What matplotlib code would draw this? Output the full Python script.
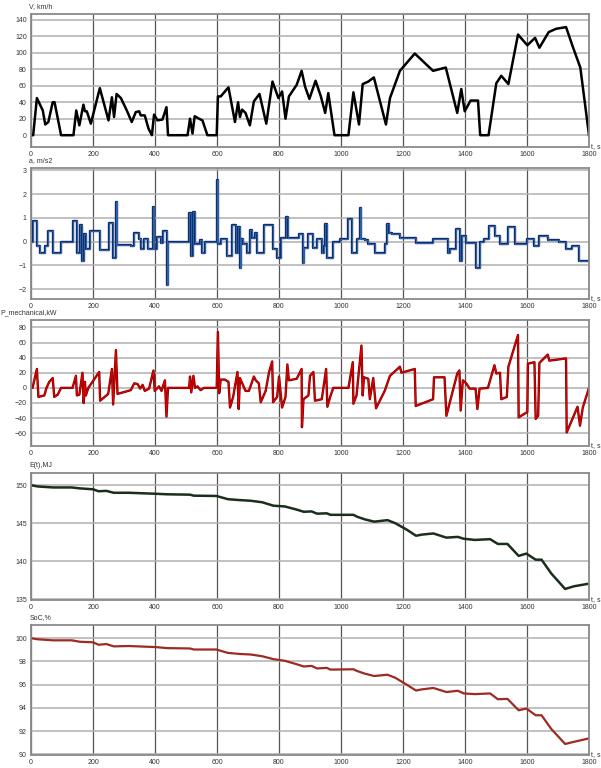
import matplotlib
matplotlib.use('Agg')
import matplotlib.pyplot as plt

plt.rcParams['font.family'] = ['Liberation Sans', 'DejaVu Sans']

#speed V, km/h
v_t = [0, 7, 19, 38, 46, 56, 70, 76, 97, 137, 146, 156, 169, 174, 180, 193, 222, 250, 261, 268,
       276, 290, 309, 325, 338, 349, 354, 367, 379, 390, 397, 408, 424, 437, 442, 505, 513, 521,
       528, 542, 553, 569, 599, 603, 612, 637, 658, 668, 674, 681, 692, 706, 719, 737, 759, 779,
       798, 810, 821, 832, 857, 873, 884, 898, 918, 935, 949, 959, 979, 1024, 1040, 1058, 1070,
       1088, 1106, 1145, 1158, 1190, 1238, 1297, 1338, 1375, 1388, 1399, 1418, 1442, 1449, 1476,
       1501, 1517, 1540, 1571, 1601, 1626, 1640, 1670, 1694, 1726, 1747, 1772, 1800]
v_val = [0, 0, 45, 30, 13, 16, 40, 40, 0, 0, 30, 12, 37, 29, 29, 14, 57, 18, 46, 22,
         50, 45, 30, 16, 28, 29, 24, 24, 8, 0, 25, 18, 19, 34, 0, 0, 20, 2,
         23, 20, 18, 0, 0, 47, 47, 58, 16, 40, 22, 31, 27, 12, 41, 50, 14, 65,
         45, 53, 20, 47, 61, 78, 59, 44, 66, 47, 27, 51, 0, 0, 52, 13, 62,
         65, 70, 13, 45, 78, 99, 78, 82, 27, 56, 29, 42, 42, 0, 0,
         63, 72, 62, 122, 109, 118, 106, 125, 129, 131, 108, 82, 0]

#acceleration a, m/s2 (step values, each holds until next time)
a_t = [0, 5, 19, 30, 46, 54, 70, 97, 134, 148, 158, 166, 172, 177, 191, 222, 252, 263, 274, 279,
       322, 333, 349, 354, 365, 376, 392, 397, 408, 419, 427, 438, 442, 510, 515, 521, 528, 544,
       551, 560, 599, 604, 612, 633, 649, 660, 668, 674, 677, 685, 696, 706, 714, 721, 730, 751,
       781, 794, 808, 822, 829, 866, 876, 881, 895, 911, 922, 938, 944, 949, 956, 975, 997, 1024,
       1034, 1050, 1061, 1066, 1077, 1088, 1109, 1142, 1149, 1155, 1163, 1190, 1243, 1297, 1345,
       1351, 1372, 1383, 1391, 1404, 1436, 1447, 1460, 1477, 1498, 1514, 1538, 1560, 1599, 1624,
       1638, 1667, 1702, 1726, 1745, 1767, 1800]
a_val = [0, 0.85, -0.2, -0.5, -0.2, 0.45, -0.5, 0, 0.85, -0.5, 0.7, -0.8, 0.3, -0.3, 0.45, -0.35,
         0.8, -0.7, 1.65, -0.15, -0.2, 0.35, 0.1, -0.3, 0.1, -0.3, 1.45, -0.3, 0.2, -0.05, 0.45,
         -1.85, 0, 1.2, -0.6, 1.25, -0.1, 0.05, -0.5, 0, 2.6, -0.1, 0.1, -0.6, 0.7, -0.5, 0.6, -1.1,
         0.1, -0.1, -0.5, 0.5, 0.15, 0.35, -0.5, 0.7, -0.3, -0.7, 0.15, 1.05, 0.15, 0.3, -0.9,
         -0.25, 0.3, -0.25, 0.1, -0.5, -0.2, 0.75, -0.7, 0.0, 0.1, 0.95, -0.5, 0.1, 1.4, 0.1, 0.05,
         -0.1, -0.5, -0.1, 0.75, 0.35, 0.3, 0.15, -0.05, 0.1, -0.5, -0.3, 0.55, -0.8, 0.25, -0.05,
         -1.1, 0.0, 0.1, 0.65, 0.25, -0.1, 0.6, -0.1, 0.1, -0.2, 0.25, 0.05, 0.0, -0.3, -0.2, -0.8,
         -0.8]

#mechanical power, kW
p_t = [0, 5, 19, 24, 43, 50, 59, 70, 75, 86, 97, 134, 145, 148, 156, 166, 170, 174, 177, 185,
       220, 223, 249, 261, 265, 274, 279, 322, 333, 344, 352, 360, 367, 381, 395, 399, 413, 421,
       432, 437, 442, 510, 513, 517, 524, 529, 537, 547, 558, 599, 603, 607, 612, 625, 637, 642,
       652, 666, 670, 674, 692, 703, 719, 725, 735, 741, 757, 768, 778, 781, 794, 800, 810, 821,
       827, 832, 857, 873, 874, 879, 895, 900, 911, 916, 938, 952, 956, 965, 975, 1024, 1038,
       1040, 1050, 1066, 1070, 1074, 1088, 1093, 1104, 1113, 1141, 1158, 1177, 1190, 1195, 1238,
       1241, 1297, 1300, 1334, 1340, 1375, 1382, 1386, 1393, 1404, 1415, 1434, 1440, 1447, 1474,
       1495, 1501, 1513, 1517, 1535, 1540, 1571, 1573, 1601, 1603, 1624, 1628, 1636, 1640, 1667,
       1672, 1726, 1728, 1763, 1771, 1780, 1800]
p_val = [0, 0, 25, -12, -10, 0, 8, 13, -12, -9, 0, 0, 16, -10, -9, 20, -20, 8, -10, 0,
         21, -17, -8, 25, -22, 50, -8, -3, 6, 5, -1, 4, -4, -1, 23, -4, 2, -4,
         10, -38, 0, 0, 15, -6, 16, 0, 2, -3, 0, 0, 74, -7, 11, 11, 8, -26,
         -12, 21, -28, 13, -4, -4, 15, 10, 6, -19, -4, 21, 35, -19, -12, 15, -26, -12,
         31, 10, 12, 25, -52, -15, -10, 16, 21, -17, -15, 25, -25, -12, 0, 0, 34,
         -21, -10, 56, -10, 14, 12, -15, 13, -27, -4, 16, 23, 28, 20, 25,
         -24, -15, 14, 14, -37, 19, 23, -30, 10, 6, -1, -1, -28, -1, 0,
         30, 19, 20, -15, -12, 28, 70, -39, -32, 32, 34, -41, -37, 33, 44,
         36, 39, -59, -25, -50, -26, 0]

#battery energy E(t), MJ
e_t = [0, 22, 71, 132, 157, 200, 218, 243, 267, 316, 402, 439, 513, 525, 598, 635, 672, 709, 746,
       782, 819, 856, 880, 905, 923, 954, 966, 1040, 1052, 1077, 1107, 1150, 1175, 1212, 1242,
       1261, 1298, 1340, 1377, 1396, 1432, 1481, 1506, 1537, 1573, 1598, 1628, 1647, 1678, 1723,
       1751, 1800]
e_val = [150, 149.83, 149.7, 149.7, 149.58, 149.46, 149.2, 149.25, 149.0, 149.0, 148.87, 148.8,
         148.75, 148.62, 148.58, 148.16, 148.04, 147.95, 147.75, 147.3, 147.2, 146.8, 146.5,
         146.55, 146.25, 146.3, 146.1, 146.1, 145.85, 145.5, 145.2, 145.4, 145.0, 144.15, 143.35,
         143.5, 143.65, 143.1, 143.2, 142.95, 142.8, 142.9, 142.27, 142.27, 140.7, 141.0, 140.2,
         140.2, 138.4, 136.35, 136.7, 137.05]

#state of charge, %
soc_t = e_t
soc_val = [100, 99.91, 99.82, 99.82, 99.7, 99.65, 99.44, 99.5, 99.3, 99.33, 99.24, 99.15, 99.12,
           99.03, 99.03, 98.74, 98.65, 98.6, 98.45, 98.2, 98.06, 97.77, 97.57, 97.62, 97.4, 97.45,
           97.3, 97.33, 97.18, 96.95, 96.75, 96.86, 96.6, 96.0, 95.5, 95.6, 95.72, 95.37, 95.48,
           95.25, 95.19, 95.25, 94.75, 94.78, 93.8, 93.95, 93.37, 93.37, 92.2, 90.9, 91.08, 91.38]

x_ticks = list(range(0, 1801, 200))

fig = plt.figure(figsize=(6.01, 7.68), dpi=100)
W, H = 601.0, 768.0

#axes boxes in pixels: top, bottom
boxes = [(14, 147), (168, 299), (320, 446), (473, 600), (625, 755)]
axes = []
for top, bot in boxes:
    ax = fig.add_axes([31 / W, 1 - bot / H, 558 / W, (bot - top) / H])
    axes.append(ax)


def style(ax, ylim, yticks, label, lx=-0.003):
    ax.set_xlim(0, 1800)
    ax.set_ylim(*ylim)
    ax.set_xticks(x_ticks)
    ax.set_yticks(yticks)
    ax.tick_params(length=0, labelsize=5, colors='#333333', pad=3)
    for x in x_ticks:
        ax.axvline(x, color='#555555', lw=0.9, zorder=0)
    for y in yticks:
        ax.axhline(y, color='#b0b0b0', lw=1.1, zorder=0)
    for s in ax.spines.values():
        s.set_color('#8a8a8a')
        s.set_linewidth(1.3)
    ax.text(lx, 1.03, label, transform=ax.transAxes, fontsize=5, ha='left', va='bottom',
            color='#333333')
    ax.text(1.004, 0.0, 't, s', transform=ax.transAxes, fontsize=5, ha='left', va='center',
            color='#333333')


#speed
ax = axes[0]
ax.plot(v_t, v_val, color='black', lw=1.8)
style(ax, (-14.3, 146.9), list(range(0, 141, 20)), 'V, km/h')

#acceleration
ax = axes[1]
ax.step(a_t, a_val, where='post', color='#102d6e', lw=1.7)
ax.step(a_t, a_val, where='post', color='#3f7fc4', lw=0.45)
style(ax, (-2.42, 3.1), [-2, -1, 0, 1, 2, 3], 'a, m/s2')

#mechanical power
ax = axes[2]
ax.plot(p_t, p_val, color='#7a0000', lw=1.7)
ax.plot(p_t, p_val, color='#e00000', lw=0.8)
style(ax, (-76.9, 89.8), list(range(-60, 81, 20)), 'P_mechanical,kW', lx=-0.055)

#energy
ax = axes[3]
ax.plot(e_t, e_val, color='#1a2e1c', lw=1.8)
style(ax, (134.9, 151.6), [135, 140, 145, 150], 'E(t),MJ')

#state of charge
ax = axes[4]
ax.plot(soc_t, soc_val, color='#9e2a22', lw=1.6)
style(ax, (89.95, 101.14), [90, 92, 94, 96, 98, 100], 'SoC,%')

plt.savefig('out.png', dpi=100)
